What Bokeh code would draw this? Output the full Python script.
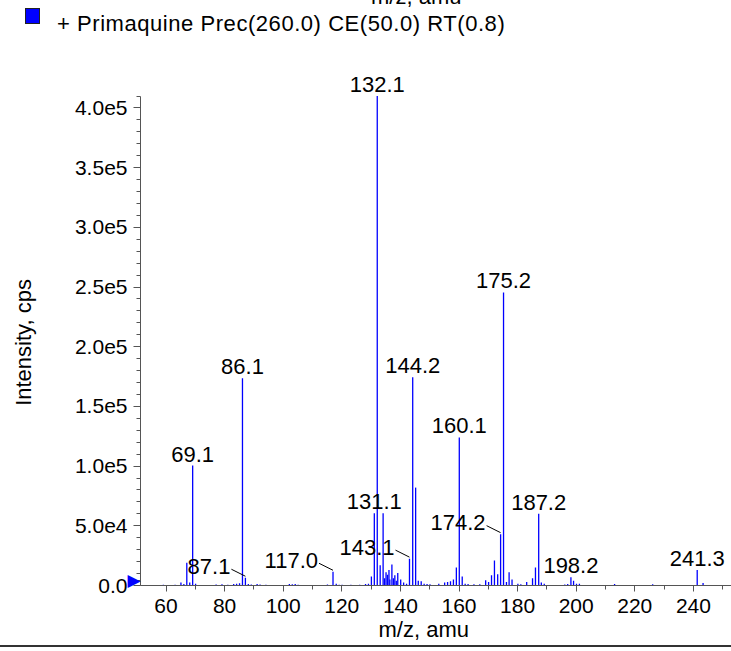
from bokeh.plotting import figure
from bokeh.models import (ColumnDataSource, LabelSet, FixedTicker, Range1d, LinearAxis, Div)
from bokeh.layouts import column
from bokeh.core.properties import value
from bokeh.embed import file_html
from bokeh.resources import INLINE

# ---- data ----
mz = [59.1, 61.1, 63.1, 65.1, 66.1, 67.1, 68.1, 69.1, 70.1, 77.1, 79.1, 81.1, 83.1, 84.1,
      85.1, 86.1, 87.1, 88.1, 89.1, 91.1, 92.1, 94.1, 98.1,
      102.1, 103.1, 104.1, 105.1, 115.1, 117.0, 118.1, 119.1, 120.1, 123.1, 126.1,
      128.1, 129.1, 130.1, 131.1, 132.1, 133.1, 134.1, 134.6, 135.1, 135.6, 136.1, 136.4,
      137.1, 137.6, 138.1, 138.6, 139.1, 140.1, 141.1, 142.1, 143.1, 144.2, 145.2, 146.1,
      147.1, 148.1, 149.1, 150.1,
      153.1, 155.1, 156.1, 157.1, 158.1, 159.1, 160.1, 161.1, 162.1, 163.1, 165.1, 167.1,
      169.1, 170.1, 171.1, 172.1, 173.2, 174.2, 175.2, 176.2, 177.1, 178.1, 180.1, 181.1,
      183.1, 185.1, 186.1, 187.2, 188.1, 189.1, 196.1, 197.1, 198.2, 199.1, 200.1, 201.1,
      213.1, 226.1, 241.3, 243.3]
intensity = [600, 500, 700, 2500, 1200, 19000, 2500, 100500, 1500, 800, 1000, 700, 1200, 1500,
             1800, 173500, 6500, 1200, 900, 1200, 800, 600, 500,
             1200, 1000, 1300, 700, 800, 11500, 1500, 700, 600, 700, 600,
             1200, 1500, 7500, 60500, 410000, 17000, 60500, 6000, 11000, 9000, 13000, 5000,
             17500, 6000, 8500, 4000, 10500, 5000, 2500, 1500, 22500, 174500, 82000, 4000,
             3500, 1500, 1200, 1000,
             1500, 2500, 3000, 3500, 5000, 15000, 124000, 7500, 1500, 1200, 1000, 1000,
             4500, 3000, 8500, 21000, 9500, 43000, 245500, 3000, 11000, 5000, 1500, 1000,
             3000, 6000, 15000, 60000, 2500, 1500, 800, 1200, 7000, 4000, 1500, 1500,
             1200, 1000, 13000, 2000]

top_labels = ["69.1", "86.1", "131.1", "132.1", "144.2", "160.1", "175.2", "187.2", "198.2", "241.3"]
leader_labels = ["87.1", "117.0", "143.1", "174.2"]

x_ticks = [60, 80, 100, 120, 140, 160, 180, 200, 220, 240]
x_minor = [50, 70, 90, 110, 130, 150, 170, 190, 210, 230, 250]
y_ticks = [0, 50000, 100000, 150000, 200000, 250000, 300000, 350000, 400000]
y_tick_labels = ["0.0", "5.0e4", "1.0e5", "1.5e5", "2.0e5", "2.5e5", "3.0e5", "3.5e5", "4.0e5"]
y_minor = list(range(0, 410001, 10000))
y_axis_top = 410000

series_name = "+ Primaquine Prec(260.0) CE(50.0) RT(0.8)"
x_title = "m/z, amu"
y_title = "Intensity, cps"

# ---- geometry (page pixels) ----
W = 731
TOP = 44           # height of the legend strip above the plot
FB = 585           # zero line (page y)
PLOT_BOTTOM = 645  # bottom of the figure (page y)
FL = 140           # y-axis line (page x)
TICK60 = 165.5     # page x of m/z 60
PX_AMU = 2.93      # pixels per m/z unit
PER_PX = y_axis_top / 489.5   # intensity per pixel
FONT = "Liberation Sans"
NB = "\u00a0"      # non-breaking space used to nudge axis titles along their axes

def mz_at(px):
    return 60 + (px - TICK60) / PX_AMU

X0, X1 = mz_at(FL), mz_at(W)
Y1 = (FB - TOP) * PER_PX
H = PLOT_BOTTOM - TOP

p = figure(width=W, height=H, output_backend="svg", toolbar_location=None,
           x_range=Range1d(X0, X1), y_range=Range1d(0, Y1),
           min_border_left=FL, min_border_right=0, min_border_top=0,
           min_border_bottom=PLOT_BOTTOM - FB, margin=0)
p.outline_line_color = None
p.xgrid.visible = False
p.ygrid.visible = False
p.background_fill_color = "white"
p.border_fill_color = "white"

lookup = dict(zip(["%.1f" % m for m in mz], intensity))

# bars
bars = ColumnDataSource(dict(x=mz, y0=[0] * len(mz), y1=intensity))
p.segment(x0="x", y0="y0", x1="x", y1="y1", source=bars, line_color="#0000FF", line_width=1.3)

# top labels
tl_x = [float(t) for t in top_labels]
tl_y = [lookup[t] for t in top_labels]
tsrc = ColumnDataSource(dict(x=tl_x, y=tl_y, t=top_labels))
p.add_layout(LabelSet(x="x", y="y", text="t", source=tsrc, text_align="center",
                      text_baseline="alphabetic", y_offset=4, text_font=value(FONT),
                      text_font_size="22px", text_color="black"))

# leader labels
ll_x = [float(t) for t in leader_labels]
ll_y = [lookup[t] for t in leader_labels]
lsrc = ColumnDataSource(dict(x=ll_x, y=ll_y, t=leader_labels,
                             lx0=[v - 14 / PX_AMU for v in ll_x],
                             ly0=[v + 8.5 * PER_PX for v in ll_y],
                             ly1=[v + 1.5 * PER_PX for v in ll_y]))
p.add_layout(LabelSet(x="x", y="y", text="t", source=lsrc, text_align="right",
                      text_baseline="alphabetic", x_offset=-15, y_offset=4, text_font=value(FONT),
                      text_font_size="22px", text_color="black"))
p.segment(x0="lx0", y0="ly0", x1="x", y1="ly1", source=lsrc, line_color="black", line_width=1)

# x axis
xa = p.xaxis[0]
xa.ticker = FixedTicker(ticks=x_ticks, minor_ticks=x_minor)
xa.axis_line_color = "#555555"
xa.major_tick_line_color = "#555555"
xa.minor_tick_line_color = "#555555"
xa.major_tick_in = 0
xa.minor_tick_in = 0
xa.major_tick_out = 6
xa.minor_tick_out = 4
xa.major_label_standoff = 7
xa.major_label_text_font = FONT
xa.major_label_text_font_size = "21px"
xa.major_label_text_color = "black"
xa.axis_label = x_title + NB * 4
xa.axis_label_standoff = 1
xa.axis_label_text_font = FONT
xa.axis_label_text_font_size = "22px"
xa.axis_label_text_font_style = "normal"
xa.axis_label_text_color = "black"

# y axis (line, ticks and the blue zero marker)
marker_tick = 5.5 * PER_PX
ya = p.yaxis[0]
ya.ticker = FixedTicker(ticks=y_ticks + [marker_tick], minor_ticks=y_minor)
ya.bounds = (0, y_axis_top)
ya.major_label_overrides = {**{t: "" for t in y_ticks}, marker_tick: "\u25B6"}
ya.axis_line_color = "#555555"
ya.major_tick_line_color = "#555555"
ya.minor_tick_line_color = "#555555"
ya.major_tick_in = 0
ya.minor_tick_in = 0
ya.major_tick_out = 7
ya.minor_tick_out = 4
ya.major_label_standoff = -7
ya.major_label_orientation = "horizontal"
ya.major_label_text_font = "DejaVu Sans"
ya.major_label_text_font_size = "17px"
ya.major_label_text_color = "#0000FF"

# y axis tick labels and title
yl = LinearAxis(ticker=FixedTicker(ticks=y_ticks, minor_ticks=[]),
                bounds=(0, y_axis_top),
                major_label_overrides={t: l for t, l in zip(y_ticks, y_tick_labels)},
                axis_line_color=None, major_tick_line_color=None, minor_tick_line_color=None,
                major_tick_out=0, minor_tick_out=0, major_tick_in=0, minor_tick_in=0,
                major_label_standoff=-3, major_label_orientation="horizontal",
                major_label_text_font=FONT, major_label_text_font_size="21px",
                major_label_text_color="black",
                axis_label=y_title + NB * 9, axis_label_standoff=36, axis_label_text_font=FONT,
                axis_label_text_font_size="22px", axis_label_text_font_style="normal",
                axis_label_text_color="black")
p.add_layout(yl, "left")

# legend strip (with the cut-off axis title of the chart above)
legend_html = (
    '<div style="position:relative;width:%dpx;height:%dpx;overflow:hidden;'
    'font-family:\'Liberation Sans\',Arial,sans-serif;color:#000;">'
    '<div style="position:absolute;left:371px;top:-19px;font-size:22px;white-space:nowrap;">%s</div>'
    '<div style="position:absolute;left:25px;top:8px;width:15px;height:16px;'
    'background:#0000FF;border:1px solid #222;"></div>'
    '<div style="position:absolute;left:57px;top:11px;font-size:22px;letter-spacing:0.55px;'
    'white-space:nowrap;line-height:normal;">%s</div>'
    '</div>' % (W, TOP, x_title, series_name))
legend_div = Div(text=legend_html, width=W, height=TOP, margin=0)

rule_div = Div(text="", width=W, height=2, margin=0,
               styles={"background-color": "#333333", "display": "block"})

layout = column(legend_div, p, rule_div, spacing=0, margin=0)

open("out.html", "w").write(file_html(layout, INLINE))
